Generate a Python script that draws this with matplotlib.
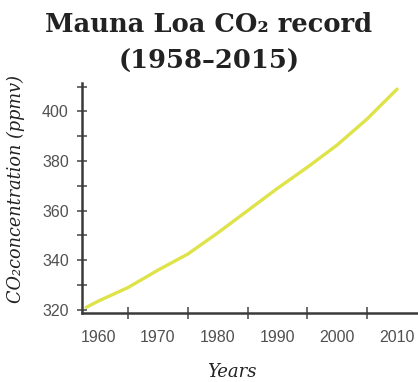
import matplotlib
matplotlib.use("Agg")
import matplotlib.pyplot as plt
import numpy as np

years = [1958, 1960, 1965, 1970, 1975, 1980, 1985, 1990, 1995, 2000, 2005, 2010]
co2_ppmv = [321, 323.5, 329, 336, 342.5, 351, 360, 369, 377.5, 386.5, 397, 409]
x_tick_labels = [1960, 1970, 1980, 1990, 2000, 2010]
y_tick_labels = [320, 340, 360, 380, 400]

fig = plt.figure(figsize=(4.18, 3.82), dpi=100)
ax = fig.add_axes([0.196, 0.181, 0.804, 0.602])

ax.plot(years, co2_ppmv, color="#dfe34a", lw=2.4, solid_capstyle="round")

ax.set_xlim(1957.3, 2013.5)
ax.set_ylim(318.8, 411.5)

for s in ["top", "right"]:
    ax.spines[s].set_visible(False)
for s in ["left", "bottom"]:
    ax.spines[s].set_color("#3a3a3a")
    ax.spines[s].set_linewidth(1.8)

ax.set_xticks(x_tick_labels)
ax.set_xticks(np.arange(1960, 2013, 5), minor=True)
ax.set_yticks(y_tick_labels)
ax.set_yticks(np.arange(320, 411, 10), minor=True)

ax.tick_params(axis="both", which="both", direction="inout", color="#444444", width=1.1)
ax.tick_params(axis="x", which="major", length=0, pad=12)
ax.tick_params(axis="x", which="minor", length=8)
ax.tick_params(axis="y", which="both", length=7, pad=6)
for lab in ax.get_xticklabels() + ax.get_yticklabels():
    lab.set_fontfamily("Liberation Sans")
    lab.set_fontsize(11.5)
    lab.set_color("#505050")

fig.text(0.5, 0.935, "Mauna Loa CO\u2082 record", ha="center", va="center",
         fontsize=18.5, fontweight="bold", family="DejaVu Serif", color="#222222")
fig.text(0.5, 0.838, "(1958\u20132015)", ha="center", va="center",
         fontsize=18.5, fontweight="bold", family="DejaVu Serif", color="#222222")

fig.text(0.038, 0.505, "CO\u2082concentration (ppmv)", rotation=90, ha="center", va="center",
         fontsize=12.7, style="italic", family="DejaVu Serif", color="#222222")
fig.text(0.555, 0.026, "Years", ha="center", va="center",
         fontsize=13, style="italic", family="DejaVu Serif", color="#222222")

fig.savefig("out.png", dpi=100, facecolor="white")
